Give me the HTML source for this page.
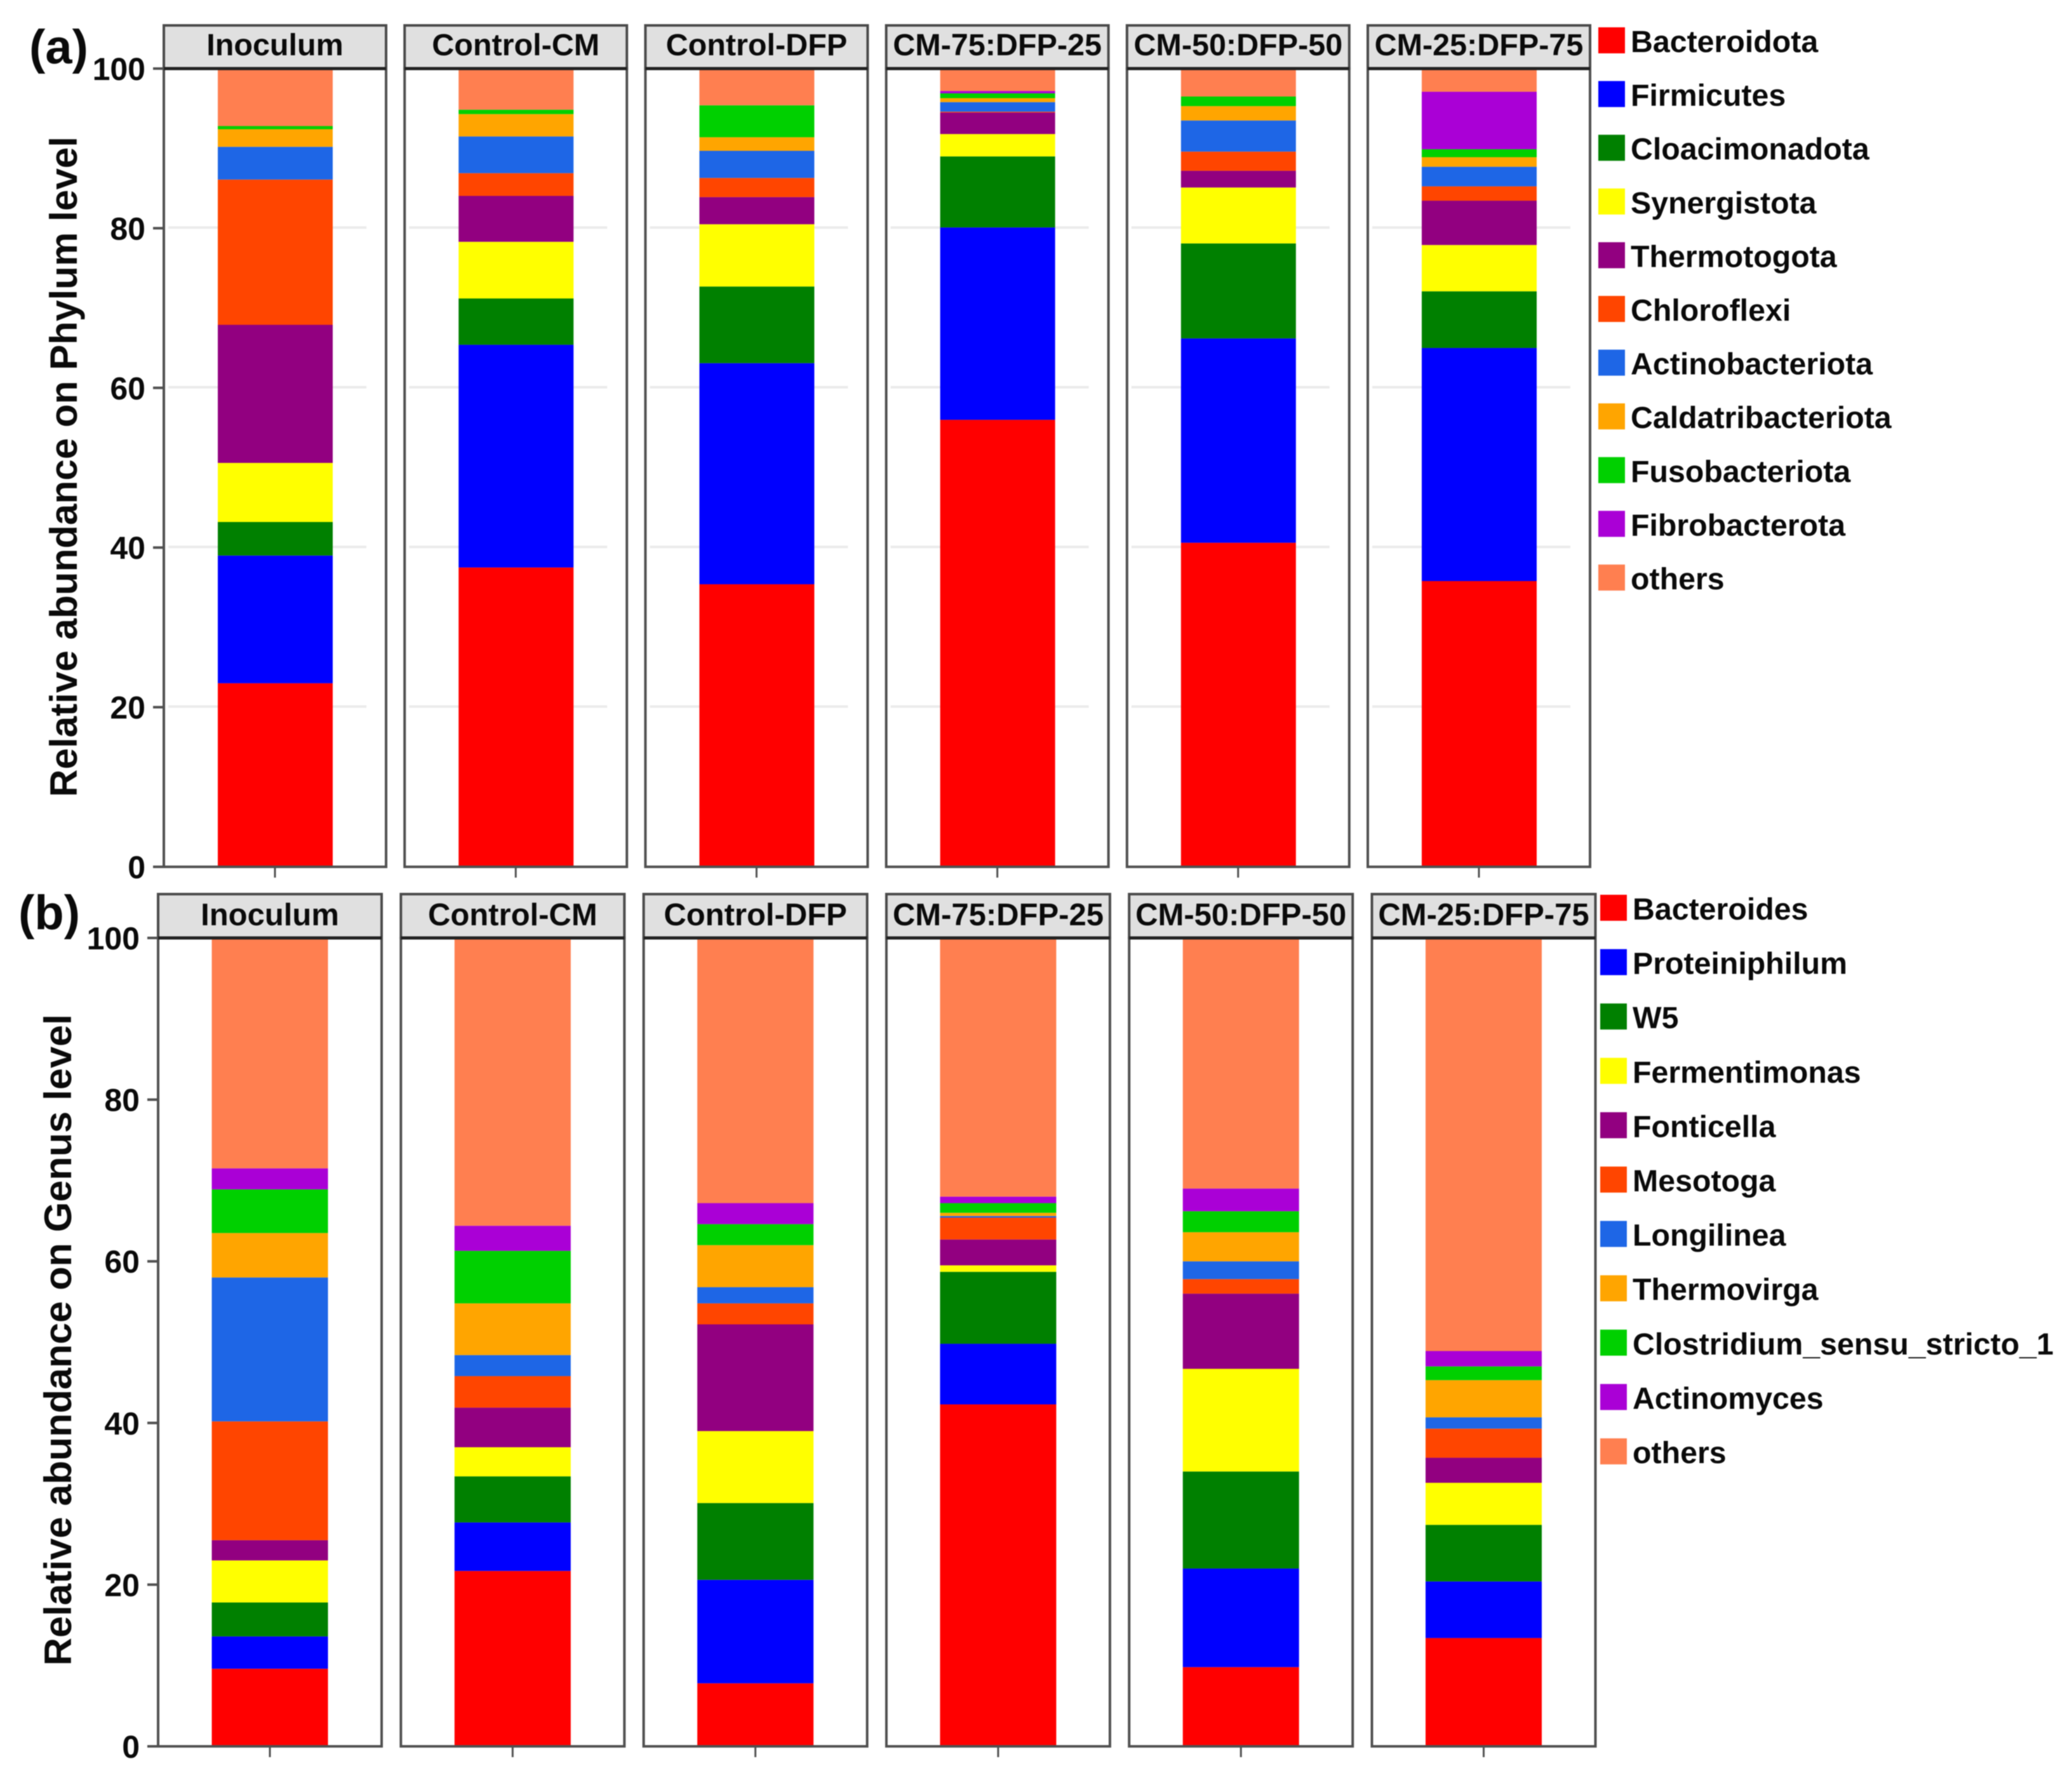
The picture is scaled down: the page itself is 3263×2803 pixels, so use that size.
<!DOCTYPE html>
<html lang="en">
<head>
<meta charset="utf-8">
<title>Relative abundance on Phylum and Genus level</title>
<style>
html,body{margin:0;padding:0;background:#fff;}
#figure{display:block;width:3263px;height:2803px;filter:blur(0.8px);}
text{font-family:"Liberation Sans",Arial,sans-serif;font-weight:bold;fill:#0a0a0a;}
</style>
</head>
<body>
<svg id="figure" xmlns="http://www.w3.org/2000/svg" width="3263" height="2803" viewBox="0 0 3263 2803">
  <rect x="0" y="0" width="3263" height="2803" fill="#ffffff"></rect>
  <text x="46" y="100" font-size="76">(a)</text>
  <text x="29" y="1463" font-size="76">(b)</text>
  <text transform="translate(121,735) rotate(-90)" text-anchor="middle" font-size="60" textLength="1040" lengthAdjust="spacingAndGlyphs">Relative abundance on Phylum level</text>
  <text transform="translate(112,2110) rotate(-90)" text-anchor="middle" font-size="60" textLength="1026" lengthAdjust="spacingAndGlyphs">Relative abundance on Genus level</text>
  <g id="chart-a"></g>
  <g id="chart-b"></g>
</svg>
<script>
// Shared categories and axis ticks
const categories = ["Inoculum", "Control-CM", "Control-DFP", "CM-75:DFP-25", "CM-50:DFP-50", "CM-25:DFP-75"];
const yTickValues = [0, 20, 40, 60, 80, 100];
const gridValues = [20, 40, 60, 80];
const seriesColors = ["#ff0000", "#0000ff", "#008000", "#ffff00", "#920080", "#ff4500", "#1e66e6", "#ffa500", "#00d000", "#aa00d6", "#ff7f50"];

// Panel (a): phylum level, one array per taxon, one value per category
const phylumNames = ["Bacteroidota", "Firmicutes", "Cloacimonadota", "Synergistota", "Thermotogota", "Chloroflexi", "Actinobacteriota", "Caldatribacteriota", "Fusobacteriota", "Fibrobacterota", "others"];
const phylumBacteroidota = [23, 37.5, 35.4, 56, 40.6, 35.8];
const phylumFirmicutes = [16, 27.9, 27.7, 24.1, 25.6, 29.2];
const phylumCloacimonadota = [4.2, 5.8, 9.6, 8.9, 11.9, 7.1];
const phylumSynergistota = [7.4, 7.1, 7.8, 2.8, 7.0, 5.8];
const phylumThermotogota = [17.3, 5.75, 3.4, 2.7, 2.1, 5.55];
const phylumChloroflexi = [18.2, 2.85, 2.4, 0.1, 2.4, 1.8];
const phylumActinobacteriota = [4.1, 4.6, 3.4, 1.2, 3.9, 2.45];
const phylumCaldatribacteriota = [2.2, 2.8, 1.7, 0.5, 1.8, 1.2];
const phylumFusobacteriota = [0.4, 0.55, 4.0, 0.6, 1.2, 1.0];
const phylumFibrobacterota = [0, 0, 0, 0.3, 0, 7.2];
const phylumOthers = [7.2, 5.15, 4.6, 2.8, 3.5, 2.9];

// Panel (b): genus level
const genusNames = ["Bacteroides", "Proteiniphilum", "W5", "Fermentimonas", "Fonticella", "Mesotoga", "Longilinea", "Thermovirga", "Clostridium_sensu_stricto_1", "Actinomyces", "others"];
const genusBacteroides = [9.6, 21.7, 7.8, 42.3, 9.8, 13.4];
const genusProteiniphilum = [4.0, 6.0, 12.8, 7.5, 12.2, 7.0];
const genusW5 = [4.2, 5.7, 9.5, 8.9, 12.0, 7.0];
const genusFermentimonas = [5.2, 3.6, 8.9, 0.8, 12.7, 5.2];
const genusFonticella = [2.5, 4.9, 13.2, 3.2, 9.3, 3.1];
const genusMesotoga = [14.7, 3.9, 2.6, 2.7, 1.8, 3.6];
const genusLongilinea = [17.8, 2.6, 2.0, 0.2, 2.2, 1.4];
const genusThermovirga = [5.5, 6.4, 5.2, 0.4, 3.6, 4.6];
const genusClostridium = [5.4, 6.5, 2.6, 1.2, 2.6, 1.7];
const genusActinomyces = [2.6, 3.1, 2.6, 0.8, 2.8, 1.9];
const genusOthers = [28.5, 35.6, 32.8, 32.0, 31.0, 51.0];

const phylumSeries = [phylumBacteroidota, phylumFirmicutes, phylumCloacimonadota, phylumSynergistota, phylumThermotogota, phylumChloroflexi, phylumActinobacteriota, phylumCaldatribacteriota, phylumFusobacteriota, phylumFibrobacterota, phylumOthers];
const genusSeries = [genusBacteroides, genusProteiniphilum, genusW5, genusFermentimonas, genusFonticella, genusMesotoga, genusLongilinea, genusThermovirga, genusClostridium, genusActinomyces, genusOthers];

const SVG_NS = "http://www.w3.org/2000/svg";

function slug(s) {
  return s.toLowerCase().replace(/[^a-z0-9]+/g, "-");
}

function node(parent, tag, attrs, content) {
  const el = document.createElementNS(SVG_NS, tag);
  for (const k in attrs) el.setAttribute(k, attrs[k]);
  if (content !== undefined) el.textContent = content;
  parent.appendChild(el);
  return el;
}

function drawChart(root, prefix, layout, names, series) {
  const yScale = function (v) {
    return layout.y0 - (v / 100) * (layout.y0 - layout.y100);
  };
  const panelX = function (i) {
    return layout.left + layout.pitch * i;
  };

  categories.forEach(function (cat, i) {
    const x = panelX(i);
    const key = prefix + "-" + slug(cat);

    const strip = node(root, "rect", { x: x, y: layout.stripTop, width: layout.width, height: layout.y100 - layout.stripTop, fill: "#e0e0e0", stroke: "#4a4a4a", "stroke-width": 4 });
    
    

    const stripLabel = node(root, "text", { x: x + layout.width / 2, y: layout.stripBase, "text-anchor": "middle", "font-size": layout.stripFont }, cat);
    
    

    if (layout.grid) {
      gridValues.forEach(function (g) {
        const line = node(root, "line", { x1: x + 7, x2: x + 319, y1: yScale(g) - 1, y2: yScale(g) - 1, stroke: "#ebebeb", "stroke-width": 4 });
        
        
      });
    }

    let cum = 0;
    const barX = x + layout.barOffset;
    series.forEach(function (values, s) {
      const v = values[i];
      const top = yScale(cum + v);
      const bottom = yScale(cum);
      cum += v;
      const seg = node(root, "rect", { x: barX, y: top, width: layout.barWidth, height: Math.max(bottom - top, 0), fill: seriesColors[s] });
      
      
    });

    const border = node(root, "rect", { x: x, y: layout.y100, width: layout.width, height: layout.y0 - layout.y100, fill: "none", stroke: "#505050", "stroke-width": 4 });
    
    

    const topRule = node(root, "line", { x1: x, x2: x + layout.width, y1: layout.y100, y2: layout.y100, stroke: "#222222", "stroke-width": 5 });
    
    

    const tick = node(root, "line", { x1: x + layout.width / 2, x2: x + layout.width / 2, y1: layout.y0, y2: layout.y0 + 17, stroke: "#505050", "stroke-width": 3 });
    
    
  });

  yTickValues.forEach(function (t) {
    const y = yScale(t);
    const tick = node(root, "line", { x1: layout.left - 17, x2: layout.left, y1: y, y2: y, stroke: "#505050", "stroke-width": 4 });
    
    

    const label = node(root, "text", { x: layout.left - 29, y: y + 18, "text-anchor": "end", "font-size": 50 }, String(t));
    
    
  });

  names.forEach(function (name, s) {
    const y = layout.legendTop + layout.legendStep * s;
    const swatch = node(root, "rect", { x: layout.legendX, y: y, width: 42, height: 41, fill: seriesColors[s] });
    
    

    const text = node(root, "text", { x: layout.legendX + 51, y: y + 39, "font-size": 48.3 }, name);
    
    
  });
}

drawChart(document.getElementById("chart-a"), "phylum", {
  left: 258, pitch: 379.2, width: 350, stripTop: 40, stripBase: 87, stripFont: 48.5,
  y100: 108, y0: 1365, barOffset: 85, barWidth: 181, grid: true,
  legendX: 2517, legendTop: 43, legendStep: 84.6
}, phylumNames, phylumSeries);

drawChart(document.getElementById("chart-b"), "genus", {
  left: 249, pitch: 382.3, width: 352, stripTop: 1408, stripBase: 1457, stripFont: 49,
  y100: 1477, y0: 2750, barOffset: 84.5, barWidth: 183, grid: false,
  legendX: 2520, legendTop: 1409, legendStep: 85.6
}, genusNames, genusSeries);
</script>
</body>
</html>
